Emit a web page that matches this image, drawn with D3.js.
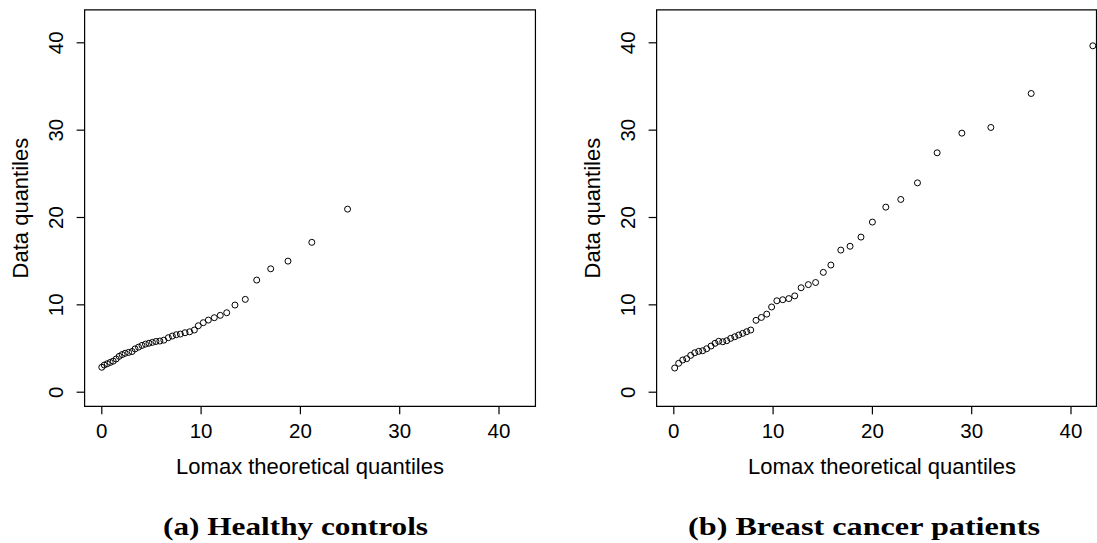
<!DOCTYPE html>
<html>
<head>
<meta charset="utf-8">
<script src="https://cdn.jsdelivr.net/npm/d3@7"></script>
<style>
  body { margin: 0; background: #fff; }
  text { font-family: "Liberation Sans", Arial, sans-serif; fill: #000; }
</style>
</head>
<body>
<div id="chart"></div>
<script>
// Q-Q points: [Lomax theoretical quantile, data quantile]
const healthyControls = [
  [0.05, 2.8], [0.3, 3.05], [0.6, 3.2], [0.9, 3.35], [1.2, 3.5], [1.5, 3.75],
  [1.8, 4.05], [2.1, 4.25], [2.4, 4.4], [2.75, 4.5], [3.1, 4.6], [3.4, 4.9],
  [3.75, 5.1], [4.1, 5.3], [4.45, 5.45], [4.8, 5.55], [5.15, 5.65], [5.5, 5.75],
  [5.9, 5.8], [6.3, 5.9], [6.75, 6.18], [7.15, 6.37], [7.55, 6.52], [7.96, 6.6],
  [8.43, 6.75], [8.9, 6.86], [9.37, 7.06], [9.77, 7.55], [10.27, 7.9], [10.78, 8.2],
  [11.38, 8.47], [11.98, 8.74], [12.63, 9.04], [13.46, 9.92], [14.5, 10.57],
  [15.65, 12.78], [17.06, 14.07], [18.8, 14.95], [21.2, 17.1], [24.8, 20.9]
]

const breastCancer = [
  [0.14, 2.71], [0.54, 3.25], [0.95, 3.63], [1.35, 3.78], [1.75, 4.16], [2.16, 4.46],
  [2.56, 4.62], [2.96, 4.69], [3.36, 4.92], [3.8, 5.23], [4.2, 5.54], [4.57, 5.77],
  [4.98, 5.72], [5.38, 5.84], [5.78, 6.11], [6.19, 6.29], [6.59, 6.49], [6.99, 6.68],
  [7.39, 6.87], [7.8, 7.06], [8.33, 8.17], [8.87, 8.5], [9.41, 8.88], [9.9, 9.7],
  [10.43, 10.41], [11.02, 10.53], [11.63, 10.66], [12.23, 10.97], [12.87, 11.9],
  [13.6, 12.26], [14.33, 12.5], [15.11, 13.66], [15.87, 14.5], [16.87, 16.21],
  [17.8, 16.65], [18.9, 17.7], [20.05, 19.42], [21.4, 21.13], [22.91, 22.01],
  [24.59, 23.91], [26.57, 27.35], [29.06, 29.6], [31.98, 30.25], [36.04, 34.14],
  [42.25, 39.6]
]

const tickValues = [0, 10, 20, 30, 40]
const axisLimits = [-1.68, 43.72]
const xTitle = "Lomax theoretical quantiles"
const yTitle = "Data quantiles"
const captions = ["(a) Healthy controls", "(b) Breast cancer patients"]

const width = 1097
const height = 543

const svg = d3.select("#chart").append("svg")
    .attr("width", width)
    .attr("height", height)

const xAccessor = d => d[0]
const yAccessor = d => d[1]

function drawPanel(points, caption, left, captionX, captionWidth) {
    // tick 0 sits 17px right of the box edge, 9.93px per unit
    const xScale = d3.scaleLinear()
        .domain([0, 40])
        .range([left + 17, left + 17 + 397.2])
    const yScale = d3.scaleLinear()
        .domain([0, 40])
        .range([391.7, 42.3])

    const g = svg.append("g")

    const x0 = xScale(axisLimits[0]), x1 = xScale(axisLimits[1])
    const y0 = yScale(axisLimits[0]), y1 = yScale(axisLimits[1])
    const boxRight = Math.min(x1, width - 0.5)

    // box
    g.append("path")
        .attr("d", `M${x0},${y1}H${x1}V${y0}H${x0}Z`)
        .attr("fill", "none")
        .attr("stroke", "#000")
        .attr("stroke-width", 1.2)
    if (boxRight < x1) {
        g.append("line")
            .attr("x1", boxRight).attr("x2", boxRight)
            .attr("y1", y1).attr("y2", y0)
            .attr("stroke", "#000")
            .attr("stroke-width", 1.2)
    }

    // x axis
    const xAxis = g.append("g")
        .attr("transform", `translate(0,${y0})`)
        .call(d3.axisBottom(xScale).tickValues(tickValues).tickSize(8))
    xAxis.select(".domain").remove()
    xAxis.selectAll("line").attr("stroke", "#000").attr("stroke-width", 1.2)
    xAxis.selectAll("text")
        .attr("y", 32)
        .attr("dy", 0)
        .style("font-size", "20.5px")
        .style("font-family", "Liberation Sans, Arial, sans-serif")
        .attr("fill", "#000")

    // y axis
    const yAxis = g.append("g")
        .attr("transform", `translate(${x0},0)`)
        .call(d3.axisLeft(yScale).tickValues(tickValues).tickSize(8))
    yAxis.select(".domain").remove()
    yAxis.selectAll("line").attr("stroke", "#000").attr("stroke-width", 1.2)
    yAxis.selectAll("text")
        .attr("transform", "rotate(-90)")
        .attr("x", 0)
        .attr("y", -22)
        .attr("dy", 0)
        .attr("text-anchor", "middle")
        .style("font-size", "20.5px")
        .style("font-family", "Liberation Sans, Arial, sans-serif")
        .attr("fill", "#000")

    // titles
    const plotCenterX = (x0 + x1) / 2
    g.append("text")
        .attr("x", plotCenterX)
        .attr("y", 474)
        .attr("text-anchor", "middle")
        .style("font-size", "22px")
        .text(xTitle)

    g.append("text")
        .attr("transform", `translate(${x0 - 57},${(y0 + y1) / 2}) rotate(-90)`)
        .attr("text-anchor", "middle")
        .style("font-size", "22px")
        .text(yTitle)

    // points
    g.append("g")
        .selectAll("circle")
        .data(points)
        .join("circle")
        .attr("cx", d => xScale(xAccessor(d)))
        .attr("cy", d => yScale(yAccessor(d)))
        .attr("r", 3)
        .attr("fill", "none")
        .attr("stroke", "#000")
        .attr("stroke-width", 1)

    // caption
    g.append("text")
        .attr("x", captionX)
        .attr("y", 535)
        .attr("text-anchor", "middle")
        .style("font-family", "Liberation Serif, 'DejaVu Serif', serif")
        .style("font-weight", "bold")
        .style("font-size", "25px")
        .attr("textLength", captionWidth)
        .attr("lengthAdjust", "spacingAndGlyphs")
        .text(caption)
}

drawPanel(healthyControls, captions[0], 84.3, 295.5, 265)
drawPanel(breastCancer, captions[1], 656.3, 864, 352)
</script>
</body>
</html>
